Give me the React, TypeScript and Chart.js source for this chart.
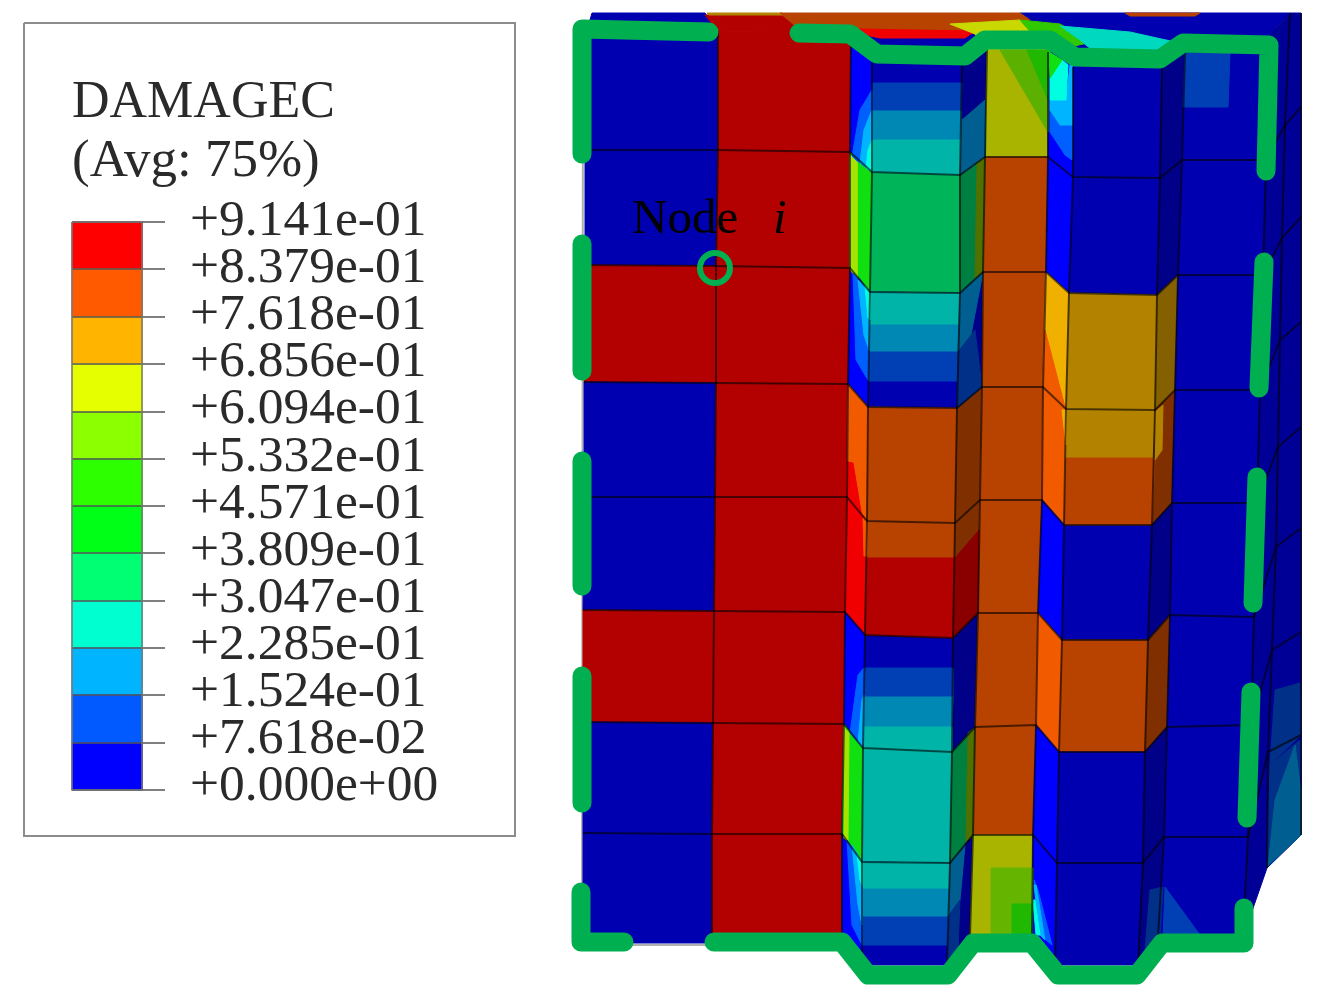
import React, { useEffect, useRef } from "react";
import { Chart, registerables } from "chart.js";

Chart.register(...registerables);

// ---------- colours of the contour ----------
const DB = "#0000b0", BB = "#0000ff", NV = "#000088", SD = "#000096";
const DR = "#b30000", RR = "#f00000", DO = "#b84300", BO = "#f25a00", BRN = "#803000";
const GO = "#b38300", AM = "#f0b000", OL = "#a8b400", GR = "#00b45a", TE = "#00b5a8";
const MB = "#0088b4", AB = "#0040b4", LG = "#10e010", YG = "#a4e400", DG = "#008040";
const AZ = "#0060ff", SK = "#00b4ff", CY = "#00ffe0", SN = "#003088", DT = "#005f90";

// ---------- legend ----------
const legendTitle = ["DAMAGEC", "(Avg: 75%)"];
const legendLabels = ["+9.141e-01", "+8.379e-01", "+7.618e-01", "+6.856e-01", "+6.094e-01", "+5.332e-01", "+4.571e-01", "+3.809e-01", "+3.047e-01", "+2.285e-01", "+1.524e-01", "+7.618e-02", "+0.000e+00"];
const legendColors = ["#ff0000", "#ff5a00", "#ffb400", "#e6ff00", "#8cff00", "#2eff00", "#00ff17", "#00ff73", "#00ffd0", "#00b4ff", "#005aff", "#0000ff"];
const legendEdges = [222, 269, 317, 364, 412, 459, 506, 553, 601, 648, 695, 743, 790];

// ---------- mesh nodes: [x per row], [y per row] ----------
const colAx = [586, 585, 585, 584, 584, 583, 583, 583, 583];
const colAy = [30, 150, 265, 382, 497, 610, 722, 833, 943];
const colBx = [718, 718, 716, 716, 715, 714, 713, 712, 712];
const colBy = [31, 150, 266, 383, 497, 611, 723, 834, 943];
const colCx = [851, 850, 850, 848, 847, 845, 844, 842, 842];
const colCy = [32, 152, 268, 384, 497, 612, 724, 834, 940];
const colDx = [872, 872, 870, 868, 867, 865, 863, 862, 862];
const colDy = [60, 172, 292, 407, 521, 635, 748, 862, 965];
const colEx = [962, 960, 960, 957, 955, 953, 952, 950, 947];
const colEy = [62, 175, 293, 408, 523, 638, 752, 863, 965];
const colFx = [987, 985, 983, 982, 980, 978, 975, 973, 970];
const colFy = [50, 157, 272, 387, 500, 613, 727, 835, 937];
const colGx = [1048, 1048, 1046, 1043, 1042, 1038, 1036, 1033, 1032];
const colGy = [52, 157, 272, 387, 500, 613, 725, 835, 937];
const colHx = [1073, 1073, 1069, 1066, 1064, 1062, 1059, 1057, 1055];
const colHy = [67, 177, 293, 409, 525, 640, 752, 863, 965];
const colIx = [1162, 1160, 1157, 1155, 1152, 1148, 1145, 1143, 1138];
const colIy = [68, 178, 295, 410, 525, 640, 752, 863, 965];
const colJx = [1185, 1182, 1178, 1175, 1172, 1170, 1167, 1164, 1158];
const colJy = [53, 160, 275, 390, 503, 615, 727, 837, 937];
const colKx = [1270, 1266, 1263, 1260, 1257, 1254, 1251, 1248, 1243];
const colKy = [45, 160, 275, 390, 503, 617, 725, 837, 937];
const colMx = [1290, 1285, 1282, 1280, 1278, 1276, 1272, 1268, 1267];
const colMy = [13, 125, 238, 340, 447, 547, 650, 752, 868];
const colLx = [1301, 1301, 1301, 1301, 1301, 1301, 1301, 1301, 1301];
const colLy = [13, 107, 217, 322, 427, 528, 632, 735, 835];

const columns: number[][][] = [
  [colAx, colAy], [colBx, colBy], [colCx, colCy], [colDx, colDy], [colEx, colEy], [colFx, colFy],
  [colGx, colGy], [colHx, colHy], [colIx, colIy], [colJx, colJy], [colKx, colKy], [colMx, colMy], [colLx, colLy],
];

// ---------- element colour per strip between two columns, top to bottom ----------
const stripAB = [DB, DB, DR, DB, DB, DR, DB, DB];
const stripBC = [DR, DR, DR, DR, DR, DR, DR, DR];
const stripCD = [BB, LG, BB, BO, RR, BB, LG, BB];
const stripDE = [DB, GR, DB, DO, DO, DB, TE, DB];
const stripEF = [NV, DG, NV, BRN, BRN, NV, DG, NV];
const stripFG = [OL, DO, DO, DO, DO, DO, DO, OL];
const stripGH = [BB, BB, AM, BO, BB, BO, BB, BB];
const stripHI = [DB, DB, GO, GO, DB, DO, DB, DB];
const stripIJ = [NV, NV, "#856000", BRN, NV, BRN, NV, NV];
const stripJK = [DB, DB, DB, DB, DB, DB, DB, DB];
const stripKM = [SD, SD, SD, SD, SD, SD, SD, SD];
const stripML = [SD, SD, SD, SD, SD, SD, SD, SD];
const strips = [stripAB, stripBC, stripCD, stripDE, stripEF, stripFG, stripGH, stripHI, stripIJ, stripJK, stripKM, stripML];

type Patch = [string, number[]];

// ---------- top face, seen behind the green outline ----------
const topPatches: Patch[] = [
  [DB, [587, 30, 592, 13, 705, 13, 718, 31]],
  [DR, [705, 15, 785, 15, 800, 30, 851, 32, 718, 31]],
  [GO, [707, 13, 782, 13, 785, 15, 709, 15]],
  [DB, [851, 32, 1000, 30, 1020, 13, 1290, 13, 1272, 32, 1270, 45, 1185, 53, 1162, 68, 1073, 67, 1048, 52, 987, 50, 962, 62, 872, 60]],
  [SD, [1272, 32, 1290, 13, 1270, 45]],
  [DO, [780, 13, 1020, 13, 1030, 20, 985, 28, 975, 33, 800, 30]],
  [RR, [800, 28, 975, 31, 965, 38, 880, 38, 851, 32]],
  ["#c8d800", [950, 24, 1020, 20, 1048, 52, 987, 50, 975, 34]],
  ["#30c800", [1020, 20, 1060, 24, 1092, 42, 1048, 52]],
  ["#00d8c0", [1060, 26, 1130, 32, 1175, 42, 1160, 55, 1092, 50, 1080, 40]],
  [DO, [1125, 13, 1200, 13, 1195, 16, 1130, 16]],
];

// ---------- contour bands inside the elements ----------
const bandPatches: Patch[] = [
  [AB, [872, 83, 962, 83, 961, 111, 872, 111]],
  [MB, [872, 111, 961, 111, 961, 140, 872, 140]],
  [TE, [872, 140, 961, 140, 960, 175, 872, 172]],
  [TE, [870, 292, 960, 293, 960, 325, 870, 325]],
  [MB, [870, 325, 960, 325, 959, 352, 869, 352]],
  [AB, [869, 352, 959, 352, 958, 381, 868, 381]],
  [DR, [866, 558, 954, 558, 953, 638, 865, 635]],
  [AB, [864, 668, 953, 668, 953, 697, 864, 697]],
  [MB, [864, 697, 953, 697, 952, 727, 864, 727]],
  [TE, [864, 727, 952, 727, 952, 752, 863, 748]],
  [TE, [862, 862, 950, 863, 950, 889, 862, 889]],
  [MB, [862, 889, 950, 889, 949, 917, 862, 917]],
  [AB, [862, 917, 949, 917, 948, 945, 862, 945]],
  [AB, [1185, 53, 1230, 53, 1228, 107, 1183, 107]],
  [DO, [1066, 458, 1155, 458, 1152, 525, 1064, 525]],
  [AZ, [860, 110, 872, 90, 872, 172, 852, 157]],
  [SK, [864, 130, 872, 110, 872, 172, 860, 163]],
  [CY, [868, 150, 872, 140, 872, 172, 866, 168]],
  [YG, [850, 155, 857, 162, 857, 278, 850, 270]],
  [AZ, [853, 273, 870, 292, 868, 380, 856, 360]],
  [SK, [858, 280, 870, 292, 869, 350, 864, 335]],
  [CY, [865, 286, 870, 292, 870, 320, 868, 318]],
  [RR, [847, 462, 853, 463, 862, 518, 847, 498]],
  [BO, [863, 518, 867, 521, 867, 556, 864, 556]],
  [AZ, [858, 675, 864, 668, 863, 748, 850, 733]],
  [SK, [862, 700, 864, 695, 863, 748, 858, 742]],
  [YG, [844, 727, 849, 733, 848, 842, 843, 837]],
  [AZ, [847, 840, 862, 862, 862, 945, 852, 925]],
  [SK, [852, 845, 862, 862, 862, 925, 858, 905]],
  [CY, [857, 855, 862, 862, 862, 885, 860, 880]],
  [DT, [962, 120, 985, 100, 985, 157, 960, 175]],
  ["#507000", [977, 163, 985, 157, 983, 272, 975, 280]],
  [DT, [960, 293, 983, 272, 970, 340, 958, 352]],
  [SN, [958, 352, 975, 330, 982, 387, 957, 408]],
  ["#8a0000", [955, 558, 979, 530, 978, 613, 953, 638]],
  ["#507000", [968, 733, 975, 727, 973, 835, 966, 842]],
  [DT, [950, 863, 965, 845, 960, 900, 949, 915]],
  [SN, [949, 915, 960, 900, 958, 950, 947, 965]],
  ["#5cb000", [1000, 50, 1035, 50, 1048, 100, 1048, 132]],
  ["#20b800", [1027, 50, 1048, 50, 1048, 100]],
  ["#64b400", [991, 868, 1033, 868, 1032, 937, 991, 937]],
  ["#20b800", [1012, 904, 1033, 904, 1032, 937, 1012, 937]],
  [AZ, [1050, 110, 1060, 125, 1072, 125, 1072, 160, 1065, 155, 1050, 132]],
  [SK, [1050, 100, 1066, 100, 1070, 65, 1072, 65, 1072, 125, 1060, 125, 1050, 110]],
  [CY, [1050, 78, 1062, 60, 1068, 65, 1066, 100, 1050, 100]],
  [LG, [1049, 52, 1062, 60, 1050, 78]],
  [BO, [1045, 330, 1065, 407, 1043, 387]],
  [AM, [1062, 410, 1066, 410, 1066, 445]],
  [AZ, [1034, 880, 1038, 890, 1052, 945, 1046, 940]],
  [SK, [1034, 885, 1036, 885, 1045, 940, 1040, 935]],
  [CY, [1033, 900, 1035, 900, 1040, 935, 1036, 935]],
  [GO, [1155, 412, 1163, 405, 1162, 450, 1155, 460]],
  [SN, [1150, 890, 1163, 887, 1160, 937, 1145, 950]],
  [AB, [1165, 887, 1200, 935, 1163, 937]],
  [SN, [1275, 690, 1300, 683, 1301, 735, 1270, 765]],
  [SN, [1270, 765, 1300, 740, 1300, 775, 1267, 868]],
  [DT, [1275, 800, 1295, 745, 1301, 790, 1301, 835, 1268, 866]],
  ["#ffffff", [1224, 37, 1230, 37, 1230, 51, 1224, 51]],
];

// ---------- green outline segments: [x, y] nodes ----------
const outlineA = [[582, 154], [582, 29], [709, 32]];
const outlineB = [[799, 33], [850, 34], [877, 54], [965, 56], [985, 40], [1050, 40], [1075, 57], [1160, 59], [1183, 43], [1269, 45], [1266, 171]];
const outlineC = [[582, 244], [582, 371]];
const outlineD = [[582, 461], [582, 586]];
const outlineE = [[582, 676], [582, 803]];
const outlineF = [[581, 892], [581, 942], [624, 942]];
const outlineG = [[714, 942], [842, 942], [868, 975], [948, 975], [973, 943], [1032, 943], [1058, 975], [1137, 975], [1162, 943], [1244, 943], [1244, 908]];
const outlineH = [[1264, 262], [1259, 388]];
const outlineI = [[1257, 477], [1253, 603]];
const outlineJ = [[1251, 692], [1247, 818]];
const outlines = [outlineA, outlineB, outlineC, outlineD, outlineE, outlineF, outlineG, outlineH, outlineI, outlineJ];

const nodeCircle = [{ x: 715, y: 268 }];
const nodeLabel = "Node";
const nodeSymbol = "i";

function poly(coords: number[]) {
  const pts = [];
  for (let i = 0; i < coords.length; i += 2) pts.push({ x: coords[i], y: coords[i + 1] });
  pts.push(pts[0]);
  return pts;
}

function fillSet(points: any[], color: string) {
  return { type: "line", data: points, fill: "shape", backgroundColor: color, borderColor: color, borderWidth: 1, pointRadius: 0, tension: 0 };
}
function lineSet(points: any[], color: string, width: number, extra: any = {}) {
  return { type: "line", data: points, fill: false, borderColor: color, borderWidth: width, pointRadius: 0, tension: 0, ...extra };
}

function buildDatasets() {
  const ds: any[] = [];
  // gray silhouette edge on the left
  ds.push(lineSet([{ x: 583, y: 30 }, { x: 582, y: 945 }, { x: 842, y: 945 }], "#b0b0b0", 2));
  for (const p of topPatches) ds.push(fillSet(poly(p[1]), p[0]));
  strips.forEach((strip, s) => {
    const [ax, ay] = columns[s];
    const [bx, by] = columns[s + 1];
    strip.forEach((c, r) => {
      ds.push(fillSet(poly([ax[r], ay[r], bx[r], by[r], bx[r + 1], by[r + 1], ax[r + 1], ay[r + 1]]), c));
    });
  });
  for (const p of bandPatches) ds.push(fillSet(poly(p[1]), p[0]));
  // mesh lines: along the columns, then along the rows
  const mesh = "rgba(0,0,0,0.6)";
  columns.slice(1).forEach(([xs, ys]) => ds.push(lineSet(xs.map((x, i) => ({ x, y: ys[i] })), mesh, 2)));
  for (let r = 1; r < 8; r++) ds.push(lineSet(columns.map(([xs, ys]) => ({ x: xs[r], y: ys[r] })), mesh, 2));
  // legend
  ds.push(fillSet(poly([24, 23, 515, 23, 515, 836, 24, 836]), "#ffffff"));
  ds.push(lineSet(poly([24, 23, 515, 23, 515, 836, 24, 836]), "#8c8c8c", 2));
  legendColors.forEach((c, i) => ds.push(fillSet(poly([72, legendEdges[i], 142, legendEdges[i], 142, legendEdges[i + 1], 72, legendEdges[i + 1]]), c)));
  legendEdges.forEach((y) => ds.push(lineSet([{ x: 72, y }, { x: 165, y }], "#555555", 1.5)));
  ds.push(lineSet(poly([72, 222, 142, 222, 142, 790, 72, 790]), "#777777", 1.5));
  // outline and node marker
  for (const o of outlines) {
    ds.push(lineSet(o.map(([x, y]) => ({ x, y })), "#00b050", 19, { borderCapStyle: "round", borderJoinStyle: "round" }));
  }
  ds.push({ type: "scatter", data: nodeCircle, pointRadius: 15, pointBorderWidth: 6, pointBorderColor: "#00b050", pointBackgroundColor: "rgba(0,0,0,0)", showLine: false });
  // later entries are painted on top
  ds.forEach((d, i) => (d.order = ds.length - i));
  return ds;
}

const textPlugin = {
  id: "legendText",
  afterDatasetsDraw(chart: any) {
    const { ctx, scales } = chart;
    const X = (v: number) => scales.x.getPixelForValue(v);
    const Y = (v: number) => scales.y.getPixelForValue(v);
    ctx.save();
    ctx.textBaseline = "alphabetic";
    ctx.textAlign = "left";
    ctx.fillStyle = "#2a2a2a";
    ctx.font = '52px "Liberation Serif"';
    ctx.fillText(legendTitle[0], X(72), Y(117));
    ctx.font = '53px "Liberation Serif"';
    ctx.fillText(legendTitle[1], X(72), Y(176));
    ctx.font = '51.5px "Liberation Serif"';
    legendLabels.forEach((l, i) => ctx.fillText(l, X(190), Y(235 + i * 47.1)));
    ctx.fillStyle = "#000000";
    ctx.font = '49px "Liberation Serif"';
    ctx.fillText(nodeLabel, X(632), Y(233));
    ctx.font = 'italic 49px "Liberation Serif"';
    ctx.fillText(nodeSymbol, X(773), Y(233));
    ctx.restore();
  },
};

export default function App() {
  const ref = useRef<HTMLCanvasElement | null>(null);
  useEffect(() => {
    const chart = new Chart(ref.current as any, {
      type: "line",
      data: { datasets: buildDatasets() },
      options: {
        responsive: false,
        animation: false,
        events: [],
        layout: { padding: 0, autoPadding: false },
        plugins: { legend: { display: false }, tooltip: { enabled: false }, title: { display: false } },
        scales: {
          x: { type: "linear", min: 0, max: 1317, display: false },
          y: { type: "linear", min: 0, max: 1001, reverse: true, display: false },
        },
      },
      plugins: [textPlugin],
    } as any);
    return () => chart.destroy();
  }, []);
  return (
    <canvas
      ref={ref}
      width={1317}
      height={1001}
      style={{ position: "absolute", left: 0, top: 0, width: 1317, height: 1001, filter: "blur(0.6px)" }}
    />
  );
}
